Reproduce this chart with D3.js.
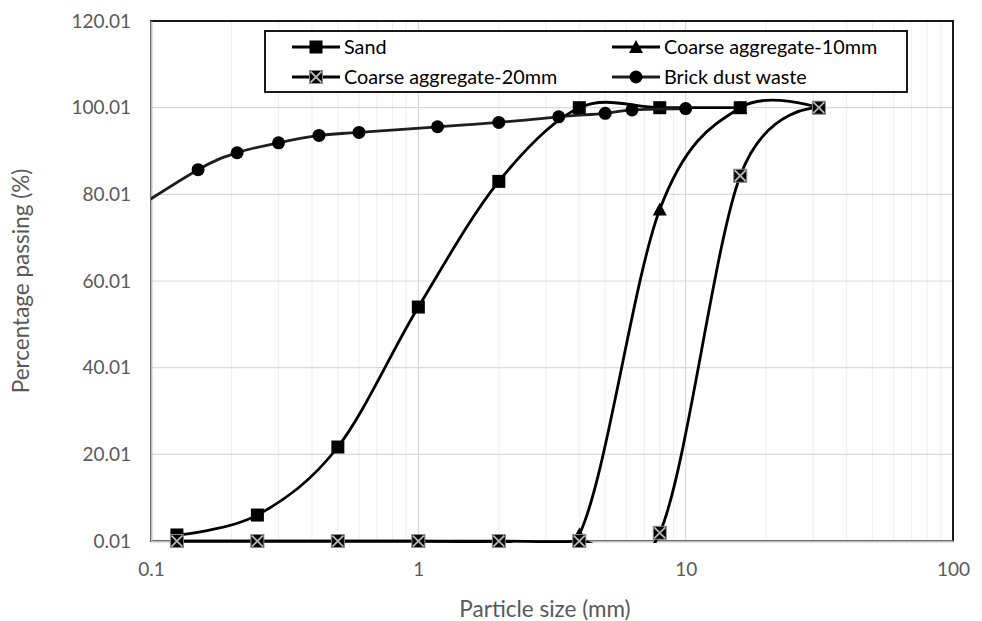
<!DOCTYPE html>
<html><head><meta charset="utf-8">
<script src="https://cdn.jsdelivr.net/npm/d3@7"></script>
<style>html,body{margin:0;padding:0;background:#fff;} svg{display:block;font-family:Lato, "Open Sans", sans-serif;}</style>
</head><body>
<svg id="chart" width="982" height="621"></svg>
<script>
// ---- data ----
const seriesNames = ["Sand", "Coarse aggregate-10mm", "Coarse aggregate-20mm", "Brick dust waste"];
const sandSizes = [0.125, 0.25, 0.5, 1, 2, 4, 8, 16];
const sandPassing = [1.4, 6.0, 21.7, 54.0, 83.0, 100, 100, 100];
const ca10Sizes = [0.125, 0.25, 0.5, 1, 2, 4, 8, 16, 31.5];
const ca10Passing = [0, 0, 0, 0, 0, 1.5, 76.5, 100, 100];
const ca20Sizes = [0.125, 0.25, 0.5, 1, 2, 4, 8, 16, 31.5];
const ca20Passing = [0, 0, 0, 0, 0, 0, 1.9, 84.3, 100];
const brickSizes = [0.075, 0.15, 0.21, 0.3, 0.425, 0.6, 1.18, 2, 3.35, 5, 6.3, 10];
const brickPassing = [74.0, 85.7, 89.6, 91.9, 93.6, 94.3, 95.6, 96.6, 97.9, 98.7, 99.5, 99.8];
const xTickValues = [0.1, 1, 10, 100];
const xTickLabels = ["0.1", "1", "10", "100"];
const yTickValues = [0.01, 20.01, 40.01, 60.01, 80.01, 100.01, 120.01];
const yTickLabels = ["0.01", "20.01", "40.01", "60.01", "80.01", "100.01", "120.01"];
const xTitle = "Particle size (mm)";
const yTitle = "Percentage passing (%)";

// ---- layout ----
const L = 151, R = 953, T = 21, B = 541;
const svg = d3.select("#chart");
const x = d3.scaleLog().domain([0.1, 100]).range([L, R]);
const y = d3.scaleLinear().domain([0.01, 120.01]).range([B, T]);

// minor vertical grid
const minorX = [];
for (let d = 0.1; d < 100; d *= 10) for (let k = 2; k <= 9; k++) minorX.push(d * k);
svg.append("g").selectAll("line").data(minorX).join("line")
  .attr("x1", d => x(d)).attr("x2", d => x(d)).attr("y1", T).attr("y2", B)
  .attr("stroke", "#f0f0f0").attr("stroke-width", 1.2);
// major vertical grid
svg.append("g").selectAll("line").data(xTickValues.slice(1, -1)).join("line")
  .attr("x1", d => x(d)).attr("x2", d => x(d)).attr("y1", T).attr("y2", B)
  .attr("stroke", "#d9d9d9").attr("stroke-width", 1.2);
// horizontal grid
svg.append("g").selectAll("line").data(yTickValues.slice(1, -1)).join("line")
  .attr("x1", L).attr("x2", R).attr("y1", d => y(d)).attr("y2", d => y(d))
  .attr("stroke", "#d9d9d9").attr("stroke-width", 1.2);

// plot border
svg.append("rect").attr("x", L).attr("y", T).attr("width", R - L).attr("height", B - T)
  .attr("fill", "none").attr("stroke", "#000").attr("stroke-width", 1.8);

// axes (gray lines, no ticks)
const xAxis = d3.axisBottom(x).tickValues(xTickValues).tickFormat((d, i) => xTickLabels[i]).tickSize(0).tickPadding(22);
const yAxis = d3.axisLeft(y).tickValues(yTickValues).tickFormat((d, i) => yTickLabels[i]).tickSize(0).tickPadding(20);
const gx = svg.append("g").attr("transform", `translate(0,${B})`).call(xAxis);
const gy = svg.append("g").attr("transform", `translate(${L},0)`).call(yAxis);
[gx, gy].forEach(g => {
  g.select(".domain").attr("stroke", "#bfbfbf").attr("stroke-width", 2);
  g.selectAll("text").attr("fill", "#595959").style("font-size", "19px").style("font-family", "Lato, sans-serif");
});

// titles
svg.append("text").attr("x", 545).attr("y", 617).attr("text-anchor", "middle")
  .attr("fill", "#595959").style("font-size", "22.5px").text(xTitle);
svg.append("text").attr("transform", "translate(29,281) rotate(-90)").attr("text-anchor", "middle")
  .attr("fill", "#595959").style("font-size", "22.5px").text(yTitle);

// clip
svg.append("clipPath").attr("id", "clip").append("rect")
  .attr("x", L).attr("y", T - 10).attr("width", R - L).attr("height", B - T + 12);

const series = [
  {name: seriesNames[0], xs: sandSizes, ys: sandPassing, marker: "square", color: "#000"},
  {name: seriesNames[1], xs: ca10Sizes, ys: ca10Passing, marker: "triangle", color: "#000"},
  {name: seriesNames[2], xs: ca20Sizes, ys: ca20Passing, marker: "xbox", color: "#000"},
  {name: seriesNames[3], xs: brickSizes, ys: brickPassing, marker: "circle", color: "#1e1e1e"}
];
const line = d3.line().x(d => x(d[0])).y(d => y(d[1])).curve(d3.curveCardinal.tension(0));

function drawMarker(g, type, cx, cy) {
  if (type === "square") {
    g.append("rect").attr("x", cx - 6.5).attr("y", cy - 6.5).attr("width", 13).attr("height", 13).attr("fill", "#000");
  } else if (type === "circle") {
    g.append("circle").attr("cx", cx).attr("cy", cy).attr("r", 6.5).attr("fill", "#000");
  } else if (type === "triangle") {
    g.append("path").attr("d", `M${cx},${cy - 7}L${cx + 7},${cy + 6}L${cx - 7},${cy + 6}Z`).attr("fill", "#000");
  } else if (type === "xbox") {
    g.append("rect").attr("x", cx - 6.5).attr("y", cy - 6.5).attr("width", 13).attr("height", 13)
      .attr("fill", "#000").attr("stroke", "#8c8c8c").attr("stroke-width", 1);
    g.append("path").attr("d", `M${cx - 5.5},${cy - 5.5}L${cx + 5.5},${cy + 5.5}M${cx + 5.5},${cy - 5.5}L${cx - 5.5},${cy + 5.5}`)
      .attr("stroke", "#b5b5b5").attr("stroke-width", 1.8);
  }
}

series.forEach(s => {
  const pts = s.xs.map((v, i) => [v, s.ys[i]]);
  svg.append("path").datum(pts).attr("d", line).attr("fill", "none")
    .attr("stroke", s.color).attr("stroke-width", 2.8).attr("clip-path", "url(#clip)");
  const gm = svg.append("g");
  pts.filter(p => p[0] >= 0.1 && p[0] <= 100).forEach(p => drawMarker(gm, s.marker, x(p[0]), y(p[1])));
});

// legend
const lg = svg.append("g");
lg.append("rect").attr("x", 265).attr("y", 31).attr("width", 642).attr("height", 61)
  .attr("fill", "#fff").attr("stroke", "#000").attr("stroke-width", 1.8);
const legendPos = [[292, 47], [612, 47], [292, 77], [612, 77]];
series.forEach((s, i) => {
  const [lx, ly] = legendPos[i];
  lg.append("line").attr("x1", lx).attr("x2", lx + 48).attr("y1", ly).attr("y2", ly)
    .attr("stroke", s.color).attr("stroke-width", 2.8);
  drawMarker(lg, s.marker, lx + 24, ly);
  lg.append("text").attr("x", lx + 52).attr("y", ly).attr("dy", "0.35em")
    .attr("fill", "#000").style("font-size", "19.8px").text(s.name);
});
</script>
</body></html>
